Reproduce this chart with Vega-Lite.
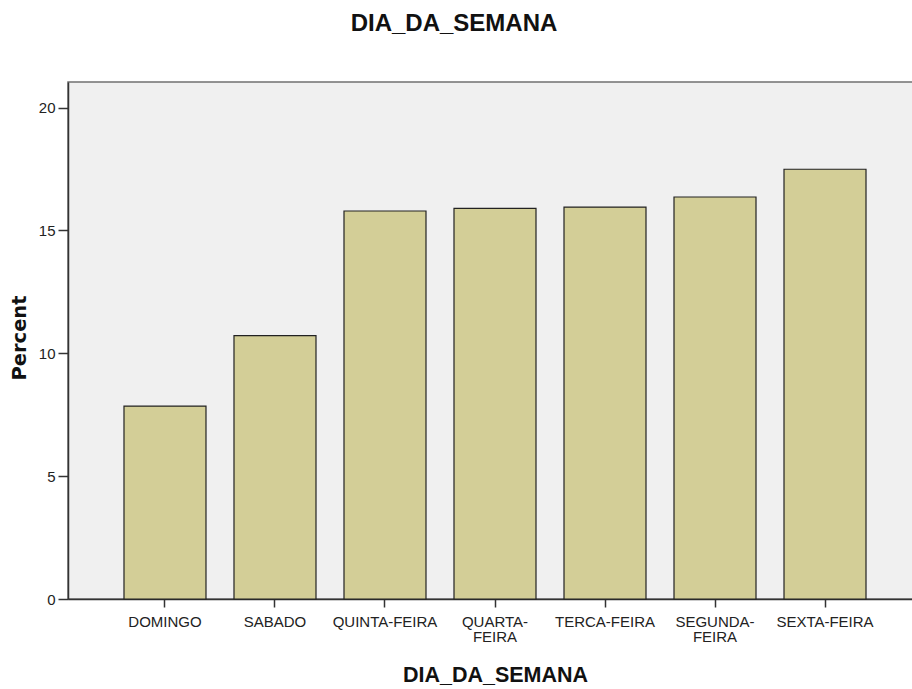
{
  "$schema": "https://vega.github.io/schema/vega-lite/v6.json",
  "autosize": {"type": "none"},
  "padding": {"left": 68, "top": 82, "right": 0, "bottom": 90},
  "width": 854,
  "height": 517,
  "background": "white",
  "title": {
    "text": "DIA_DA_SEMANA",
    "font": "Liberation Sans",
    "fontSize": 24,
    "fontWeight": "bold",
    "color": "#111111",
    "baseline": "alphabetic",
    "offset": 27,
    "dx": -41,
    "anchor": "middle"
  },
  "config": {
    "view": {"fill": "#F0F0F0", "stroke": "#707070", "strokeWidth": 1.5},
    "axis": {"grid": false}
  },
  "data": {
    "values": [
      {"dia": "DOMINGO", "percent": 7.85},
      {"dia": "SABADO", "percent": 10.72},
      {"dia": "QUINTA-FEIRA", "percent": 15.79},
      {"dia": "QUARTA-FEIRA", "percent": 15.90},
      {"dia": "TERCA-FEIRA", "percent": 15.95},
      {"dia": "SEGUNDA-FEIRA", "percent": 16.36},
      {"dia": "SEXTA-FEIRA", "percent": 17.49}
    ]
  },
  "mark": {"type": "bar", "fill": "#D3CE97", "stroke": "#222222", "strokeWidth": 1.2},
  "encoding": {
    "x": {
      "field": "dia",
      "type": "nominal",
      "sort": null,
      "scale": {"paddingInner": 0.2545, "paddingOuter": 0.509},
      "axis": {
        "title": "DIA_DA_SEMANA",
        "titleFont": "Liberation Sans",
        "titleFontSize": 21.5,
        "titleFontWeight": "bold",
        "titleColor": "#111111",
        "titleBaseline": "alphabetic",
        "titleY": 82,
        "labelAngle": 0,
        "labelFont": "Liberation Sans",
        "labelFontSize": 15,
        "labelColor": "#222222",
        "labelLineHeight": 15.5,
        "labelPadding": 7,
        "labelExpr": "datum.label == 'QUARTA-FEIRA' ? ['QUARTA-', 'FEIRA'] : datum.label == 'SEGUNDA-FEIRA' ? ['SEGUNDA-', 'FEIRA'] : datum.label",
        "tickSize": 8,
        "tickColor": "#333333",
        "tickWidth": 1.5,
        "domainColor": "#333333",
        "domainWidth": 1.5
      }
    },
    "y": {
      "field": "percent",
      "type": "quantitative",
      "scale": {"domain": [0, 21.04], "nice": false},
      "axis": {
        "title": "Percent",
        "titleFont": "DejaVu Sans",
        "titleFontSize": 19.5,
        "titleFontWeight": "bold",
        "titleColor": "#111111",
        "titleBaseline": "alphabetic",
        "titleX": -43,
        "titleY": 255.5,
        "titleAngle": 270,
        "values": [0, 5, 10, 15, 20],
        "labelFont": "Liberation Sans",
        "labelFontSize": 15,
        "labelColor": "#222222",
        "labelPadding": 3,
        "tickSize": 10,
        "tickColor": "#333333",
        "tickWidth": 1.5,
        "domainColor": "#333333",
        "domainWidth": 1.5
      }
    }
  }
}
